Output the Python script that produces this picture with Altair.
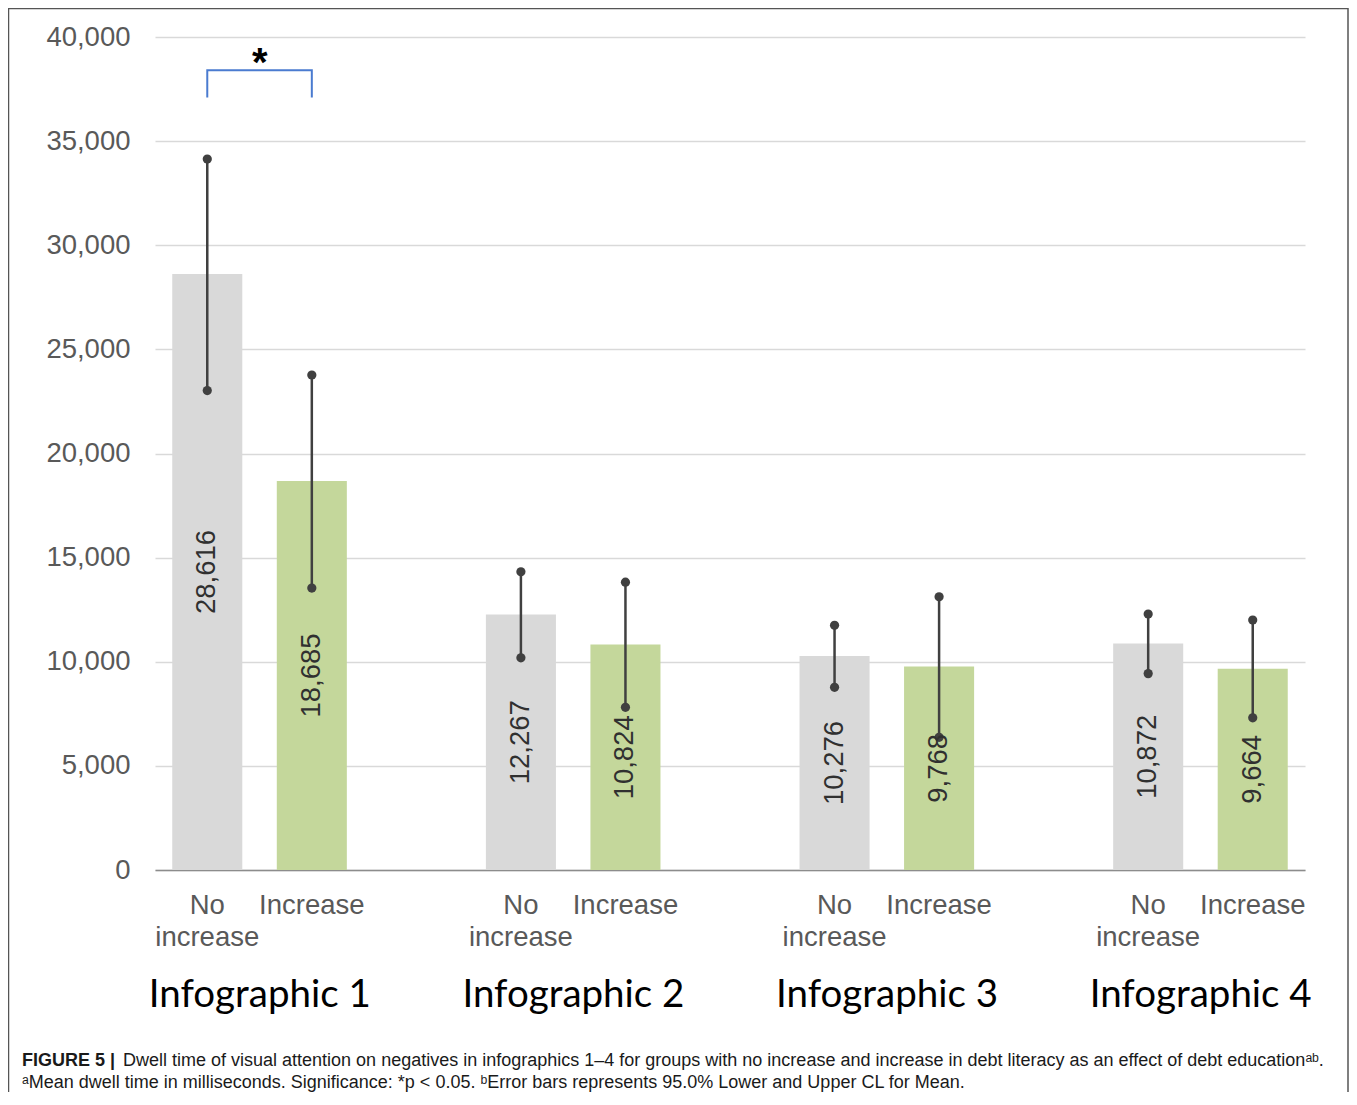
import altair as alt
import pandas as pd

# ---------------- data ----------------
groups = ["Infographic 1", "Infographic 2", "Infographic 3", "Infographic 4"]
conditions = ["No increase", "Increase"]
mean_no = [28616, 12267, 10276, 10872]
mean_inc = [18685, 10824, 9768, 9664]
lower_no = [23020, 10190, 8770, 9430]
upper_no = [34140, 14320, 11750, 12290]
lower_inc = [13540, 7810, 6370, 7310]
upper_inc = [23770, 13820, 13120, 12000]
bar_colors = ["#d9d9d9", "#c4d79b"]
y_ticks = [0, 5000, 10000, 15000, 20000, 25000, 30000, 35000, 40000]
bracket_low, bracket_high, star_y = 37100, 38400, 38130

caption1_bold = "FIGURE 5 |"
caption1 = ("Dwell time of visual attention on negatives in infographics 1\u20134 for groups "
            "with no increase and increase in debt literacy as an effect of debt education\u1d43\u1d47.")
caption2 = ("\u1d43Mean dwell time in milliseconds. Significance: *p < 0.05. "
            "\u1d47Error bars represents 95.0% Lower and Upper CL for Mean.")

rows, domain, grp_rows = [], [], []
for i, g in enumerate(groups):
    for cond, m, lo, hi in [("No increase", mean_no[i], lower_no[i], upper_no[i]),
                            ("Increase", mean_inc[i], lower_inc[i], upper_inc[i])]:
        key = f"{i+1}|{cond}"
        rows.append(dict(key=key, group=g, cond=cond, mean=m, lower=lo, upper=hi))
        domain.append(key)
    grp_rows.append(dict(key=f"{i+1}|No increase", group=g))
    if i < len(groups) - 1:
        domain.append(f"gap{i+1}")
df = pd.DataFrame(rows)
grp_df = pd.DataFrame(grp_rows)
bracket_df = pd.DataFrame([
    dict(key="1|No increase", yv=bracket_low, o=0),
    dict(key="1|No increase", yv=bracket_high, o=1),
    dict(key="1|Increase", yv=bracket_high, o=2),
    dict(key="1|Increase", yv=bracket_low, o=3),
])
star_df = pd.DataFrame([dict(key="1|No increase", yv=star_y, t="*")])
one = pd.DataFrame([dict(a=1)])

W, H = 1150, 833
FONT = "Liberation Sans"
GRAY_TXT = "#595959"

x_scale = alt.Scale(domain=domain, paddingInner=0.33, paddingOuter=0.165)
x_axis = alt.Axis(
    title=None,
    labelExpr="indexof(datum.value, 'No increase') >= 0 ? ['No', 'increase'] : "
              "(indexof(datum.value, 'gap') >= 0 ? '' : 'Increase')",
    labelAngle=0, labelFont=FONT, labelFontSize=27.5, labelColor=GRAY_TXT,
    labelLineHeight=32, labelPadding=21, ticks=False, tickSize=0,
    domain=True, domainColor="#8c8c8c", domainWidth=1.5, grid=False,
    labelOverlap=False, labelBound=False,
)
x_enc = alt.X("key:N", scale=x_scale, axis=x_axis, title=None)

y_scale = alt.Scale(domain=[0, 40000], nice=False, zero=True)
y_axis = alt.Axis(
    title=None, values=y_ticks, format=",d", labelFont=FONT, labelFontSize=27.5,
    labelColor=GRAY_TXT, domain=False, ticks=False, tickSize=0, labelPadding=25,
    grid=True, gridColor="#d9d9d9", gridWidth=1.5,
)


def Y(field):
    return alt.Y(field, scale=y_scale, axis=y_axis, title=None)


base = alt.Chart(df)

bars = base.mark_bar().encode(
    x=x_enc,
    y=Y("mean:Q"),
    color=alt.Color("cond:N", scale=alt.Scale(domain=conditions, range=bar_colors), legend=None),
)

err = base.mark_rule(color="#404040", strokeWidth=2.5).encode(
    x=x_enc, y=Y("lower:Q"), y2="upper:Q"
)

dots = base.transform_fold(["lower", "upper"], as_=["end", "val"]).mark_circle(
    size=85, color="#404040", opacity=1
).encode(x=x_enc, y=Y("val:Q"))

vals = base.transform_calculate(
    mid="datum.mean / 2", lab="format(datum.mean, ',')"
).mark_text(
    angle=270, font=FONT, fontSize=27.5, color="#303030", align="center", baseline="middle"
).encode(x=x_enc, y=Y("mid:Q"), text="lab:N")

bracket = alt.Chart(bracket_df).mark_line(color="#4a7bd0", strokeWidth=2).encode(
    x=x_enc, y=Y("yv:Q"), order="o:Q"
)

star = alt.Chart(star_df).mark_text(
    font=FONT, fontSize=40, fontWeight="bold", color="#000000", dx=52.5,
    align="center", baseline="alphabetic"
).encode(x=x_enc, y=Y("yv:Q"), text="t:N")

grp = alt.Chart(grp_df).mark_text(
    font="Lato", fontSize=38.5, color="#000000", dx=52.5, align="center", baseline="alphabetic"
).encode(x=x_enc, y=alt.value(970), text="group:N")

frame = alt.Chart(one).mark_rect(
    fillOpacity=0, stroke="#555555", strokeWidth=1.5
).encode(x=alt.value(-146.5), x2=alt.value(1193), y=alt.value(-28.5), y2=alt.value(1120))

cap_b = alt.Chart(one).mark_text(
    text=caption1_bold, font=FONT, fontSize=18, fontWeight="bold", color="#1a1a1a",
    align="left", baseline="alphabetic"
).encode(x=alt.value(-133), y=alt.value(1029))

cap_1 = alt.Chart(one).mark_text(
    text=caption1, font=FONT, fontSize=18, color="#1a1a1a", align="left", baseline="alphabetic"
).encode(x=alt.value(-32), y=alt.value(1029))

cap_2 = alt.Chart(one).mark_text(
    text=caption2, font=FONT, fontSize=18, color="#1a1a1a", align="left", baseline="alphabetic"
).encode(x=alt.value(-133), y=alt.value(1051))

chart = alt.layer(
    frame, bars, err, dots, vals, bracket, star, grp, cap_b, cap_1, cap_2
).properties(
    width=W, height=H,
    autosize=alt.AutoSizeParams(type="none"),
    padding={"left": 147, "top": 29, "right": 44, "bottom": 222},
).configure(background="white").configure_view(strokeWidth=0)

chart.save("out.html", embed_options={"renderer": "svg", "actions": False})
